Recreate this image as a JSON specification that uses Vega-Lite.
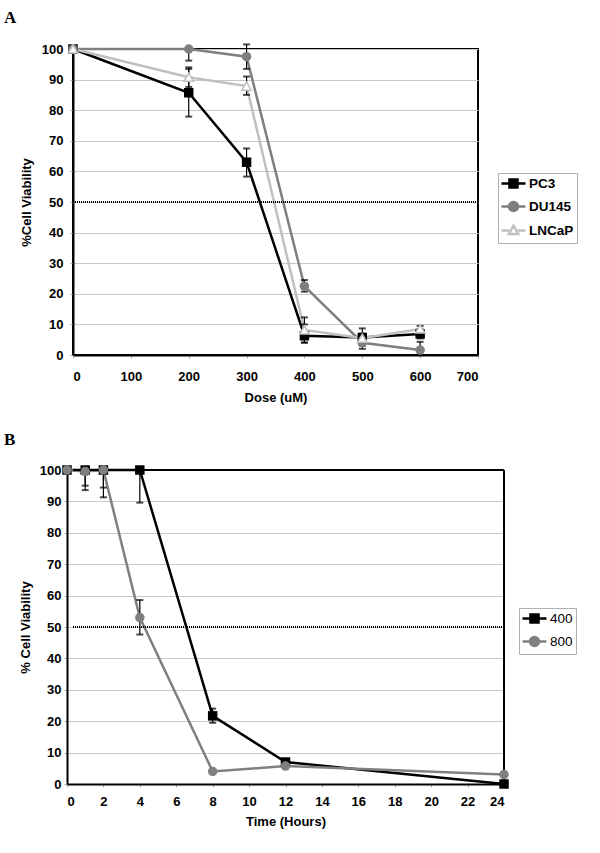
{
  "$schema": "https://vega.github.io/schema/vega-lite/v6.json",
  "background": "white",
  "padding": {"left": 3, "top": 7, "right": 5, "bottom": 5},
  "config": {
    "font": "Liberation Sans",
    "view": {"stroke": "black", "strokeWidth": 2},
    "axis": {
      "labelFont": "Liberation Sans", "labelFontWeight": "bold", "labelFontSize": 13, "labelColor": "black",
      "titleFont": "Liberation Sans", "titleFontWeight": "bold", "titleFontSize": 13, "titleColor": "black",
      "domainColor": "black", "domainWidth": 2, "tickColor": "#aaaaaa", "tickSize": 3,
      "gridColor": "#c8c8c8", "gridWidth": 1, "labelOverlap": false
    },
    "legend": {
      "labelFont": "Liberation Sans", "labelFontSize": 13, "labelColor": "black", "labelLimit": 300,
      "strokeColor": "#b0b0b0", "padding": 3, "rowPadding": 4, "symbolSize": 144, "symbolOffset": 5, "labelOffset": 8
    },
    "title": {"font": "Liberation Serif", "fontSize": 17, "fontWeight": "bold", "color": "black", "anchor": "start", "frame": "group"}
  },
  "datasets": {
    "a": [
      {"dose": 0, "line": "PC3", "v": 100, "lo": null, "hi": null},
      {"dose": 200, "line": "PC3", "v": 85.7, "lo": 77.9, "hi": 93.5},
      {"dose": 300, "line": "PC3", "v": 63, "lo": 58.3, "hi": 67.5},
      {"dose": 400, "line": "PC3", "v": 6.3, "lo": 4, "hi": 10},
      {"dose": 500, "line": "PC3", "v": 5.7, "lo": 2, "hi": 8.7},
      {"dose": 600, "line": "PC3", "v": 6.9, "lo": 5.4, "hi": 8.4},
      {"dose": 0, "line": "DU145", "v": 100, "lo": null, "hi": null},
      {"dose": 200, "line": "DU145", "v": 100, "lo": 96.2, "hi": 100},
      {"dose": 300, "line": "DU145", "v": 97.5, "lo": 93.5, "hi": 101.5},
      {"dose": 400, "line": "DU145", "v": 22.5, "lo": 20.7, "hi": 24.5},
      {"dose": 500, "line": "DU145", "v": 4, "lo": 3, "hi": 5},
      {"dose": 600, "line": "DU145", "v": 1.6, "lo": 0, "hi": 4.3},
      {"dose": 0, "line": "LNCaP", "v": 100, "lo": null, "hi": null},
      {"dose": 200, "line": "LNCaP", "v": 90.8, "lo": 87.6, "hi": 94},
      {"dose": 300, "line": "LNCaP", "v": 87.9, "lo": 85, "hi": 91},
      {"dose": 400, "line": "LNCaP", "v": 8.2, "lo": 4.1, "hi": 12.3},
      {"dose": 500, "line": "LNCaP", "v": 5.5, "lo": 4, "hi": 7},
      {"dose": 600, "line": "LNCaP", "v": 8.5, "lo": 7.5, "hi": 9.5}
    ],
    "b": [
      {"t": 0, "dose": "400", "v": 100, "lo": null, "hi": null},
      {"t": 1, "dose": "400", "v": 100, "lo": 95, "hi": 100},
      {"t": 2, "dose": "400", "v": 100, "lo": 94.4, "hi": 100},
      {"t": 4, "dose": "400", "v": 100, "lo": 89.6, "hi": 100},
      {"t": 8, "dose": "400", "v": 21.7, "lo": 19.5, "hi": 24},
      {"t": 12, "dose": "400", "v": 7, "lo": null, "hi": null},
      {"t": 24, "dose": "400", "v": 0, "lo": null, "hi": null},
      {"t": 0, "dose": "800", "v": 100, "lo": null, "hi": null},
      {"t": 1, "dose": "800", "v": 99.5, "lo": 93.6, "hi": 100},
      {"t": 2, "dose": "800", "v": 100, "lo": 91.3, "hi": 100},
      {"t": 4, "dose": "800", "v": 53, "lo": 47.6, "hi": 58.6},
      {"t": 8, "dose": "800", "v": 4, "lo": null, "hi": null},
      {"t": 12, "dose": "800", "v": 5.7, "lo": null, "hi": null},
      {"t": 24, "dose": "800", "v": 3, "lo": null, "hi": null}
    ]
  },
  "concat": [
    {
      "title": {"text": "A", "dx": -69, "offset": 15},
      "width": 405,
      "height": 306,
      "data": {"name": "a"},
      "layer": [
        {
          "mark": {"type": "line", "strokeWidth": 2.5},
          "encoding": {
            "x": {"field": "dose", "type": "quantitative", "scale": {"domain": [0, 700]},
                  "axis": {"title": "Dose (uM)", "values": [0,100,200,300,400,500,600,700], "tickCount": 20, "grid": false, "labelPadding": 12, "titlePadding": 8}},
            "y": {"field": "v", "type": "quantitative", "scale": {"domain": [0, 100]},
                  "axis": {"title": "%Cell Viability", "values": [0,10,20,30,40,50,60,70,80,90,100], "tickCount": 20, "grid": true, "labelPadding": 7, "titlePadding": 8}},
            "color": {"field": "line", "type": "nominal",
                      "scale": {"domain": ["PC3", "DU145", "LNCaP"], "range": ["#000000", "#7f7f7f", "#c0c0c0"]},
                      "legend": {
                        "title": null, "orient": "none", "legendX": 425, "legendY": 124,
                        "labelFontWeight": "bold", "labelFontSize": 13.5, "labelFont": "Liberation Sans", "labelLimit": 300,
                        "encode": {"symbols": {"update": {
                          "shape": {"signal": "datum.value === 'PC3' ? 'M-2,0H2M-0.67,-0.67H0.67V0.67H-0.67Z' : datum.value === 'DU145' ? 'M-2,0H2M0.75,0A0.75,0.75,0,1,1,-0.75,0A0.75,0.75,0,1,1,0.75,0Z' : 'M-2,0H-0.75M0.75,0H2M0,-0.8L0.8,0.6H-0.8Z'"},
                          "fill": {"signal": "datum.value === 'PC3' ? 'black' : datum.value === 'DU145' ? '#7f7f7f' : 'white'"},
                          "stroke": {"signal": "datum.value === 'PC3' ? 'black' : datum.value === 'DU145' ? '#7f7f7f' : '#c0c0c0'"},
                          "strokeWidth": {"value": 2.5},
                          "opacity": {"value": 1}
                        }}}
                      }},
            "order": {"field": "dose", "type": "quantitative"}
          }
        },
        {
          "mark": {"type": "rule", "color": "black", "strokeWidth": 1, "strokeDash": [1, 1]},
          "encoding": {"y": {"datum": 50, "type": "quantitative"}}
        },
        {
          "transform": [{"filter": "datum.lo != null"}],
          "mark": {"type": "rule", "color": "black", "strokeWidth": 1.2},
          "encoding": {
            "x": {"field": "dose", "type": "quantitative"},
            "y": {"field": "lo", "type": "quantitative"},
            "y2": {"field": "hi"}
          }
        },
        {
          "transform": [{"filter": "datum.lo != null"}, {"fold": ["lo", "hi"], "as": ["end", "ev"]}],
          "mark": {"type": "tick", "orient": "horizontal", "color": "black", "size": 7, "thickness": 2},
          "encoding": {
            "x": {"field": "dose", "type": "quantitative"},
            "y": {"field": "ev", "type": "quantitative"}
          }
        },
        {
          "transform": [{"filter": "datum.line === 'PC3'"}],
          "mark": {"type": "point", "shape": "square", "filled": true, "opacity": 1, "color": "black", "size": 90},
          "encoding": {
            "x": {"field": "dose", "type": "quantitative"},
            "y": {"field": "v", "type": "quantitative"}
          }
        },
        {
          "transform": [{"filter": "datum.line === 'DU145'"}],
          "mark": {"type": "point", "shape": "circle", "filled": true, "opacity": 1, "color": "#7f7f7f", "size": 90},
          "encoding": {
            "x": {"field": "dose", "type": "quantitative"},
            "y": {"field": "v", "type": "quantitative"}
          }
        },
        {
          "transform": [{"filter": "datum.line === 'LNCaP'"}],
          "mark": {"type": "point", "shape": "triangle-up", "filled": false, "fill": "white", "fillOpacity": 1, "opacity": 1, "stroke": "#c0c0c0", "strokeWidth": 1.5, "size": 90},
          "encoding": {
            "x": {"field": "dose", "type": "quantitative"},
            "y": {"field": "v", "type": "quantitative"}
          }
        }
      ]
    },
    {
      "title": {"text": "B", "dx": -69, "offset": 15},
      "width": 431,
      "height": 314,
      "data": {"name": "b"},
      "view": {"stroke": null},
      "layer": [
        {
          "mark": {"type": "line", "strokeWidth": 2.5},
          "encoding": {
            "x": {"field": "t", "type": "quantitative", "scale": {"domain": [0, 24], "range": [-6, 431]},
                  "axis": {"title": "Time (Hours)", "values": [0,2,4,6,8,10,12,14,16,18,20,22,24], "tickCount": 30, "grid": false, "labelPadding": 8, "titlePadding": 7}},
            "y": {"field": "v", "type": "quantitative", "scale": {"domain": [0, 100]},
                  "axis": {"title": "% Cell Viability", "values": [0,10,20,30,40,50,60,70,80,90,100], "tickCount": 20, "grid": true, "offset": 6, "labelPadding": 3, "titlePadding": 7}},
            "color": {"field": "dose", "type": "nominal",
                      "scale": {"domain": ["400", "800"], "range": ["#000000", "#808080"]},
                      "legend": {
                        "title": null, "orient": "none", "legendX": 446, "legendY": 138,
                        "labelFontWeight": "normal", "labelFontSize": 13.5, "labelFont": "Liberation Sans",
                        "encode": {"symbols": {"update": {
                          "shape": {"signal": "datum.value === '400' ? 'M-2,0H2M-0.67,-0.67H0.67V0.67H-0.67Z' : 'M-2,0H2M0.75,0A0.75,0.75,0,1,1,-0.75,0A0.75,0.75,0,1,1,0.75,0Z'"},
                          "fill": {"signal": "datum.value === '400' ? 'black' : '#808080'"},
                          "stroke": {"signal": "datum.value === '400' ? 'black' : '#808080'"},
                          "strokeWidth": {"value": 2.5},
                          "opacity": {"value": 1}
                        }}}
                      }},
            "order": {"field": "t", "type": "quantitative"}
          }
        },
        {
          "mark": {"type": "rule", "color": "black", "strokeWidth": 1, "strokeDash": [1, 1]},
          "encoding": {"y": {"datum": 50, "type": "quantitative"}}
        },
        {
          "mark": {"type": "rule", "color": "black", "strokeWidth": 2},
          "encoding": {"y": {"datum": 100, "type": "quantitative"}}
        },
        {
          "mark": {"type": "rule", "color": "black", "strokeWidth": 2},
          "encoding": {"x": {"datum": 24, "type": "quantitative"}}
        },
        {
          "transform": [{"filter": "datum.lo != null"}],
          "mark": {"type": "rule", "color": "black", "strokeWidth": 1.2},
          "encoding": {
            "x": {"field": "t", "type": "quantitative"},
            "y": {"field": "lo", "type": "quantitative"},
            "y2": {"field": "hi"}
          }
        },
        {
          "transform": [{"filter": "datum.lo != null"}, {"fold": ["lo", "hi"], "as": ["end", "ev"]}],
          "mark": {"type": "tick", "orient": "horizontal", "color": "black", "size": 7, "thickness": 2},
          "encoding": {
            "x": {"field": "t", "type": "quantitative"},
            "y": {"field": "ev", "type": "quantitative"}
          }
        },
        {
          "transform": [{"filter": "datum.dose === '400'"}],
          "mark": {"type": "point", "shape": "square", "filled": true, "opacity": 1, "color": "black", "size": 90},
          "encoding": {
            "x": {"field": "t", "type": "quantitative"},
            "y": {"field": "v", "type": "quantitative"}
          }
        },
        {
          "transform": [{"filter": "datum.dose === '800'"}],
          "mark": {"type": "point", "shape": "circle", "filled": true, "opacity": 1, "color": "#808080", "size": 90},
          "encoding": {
            "x": {"field": "t", "type": "quantitative"},
            "y": {"field": "v", "type": "quantitative"}
          }
        }
      ]
    }
  ],
  "resolve": {"scale": {"color": "independent"}, "legend": {"color": "independent"}},
  "columns": 1,
  "align": "none",
  "spacing": 26
}
